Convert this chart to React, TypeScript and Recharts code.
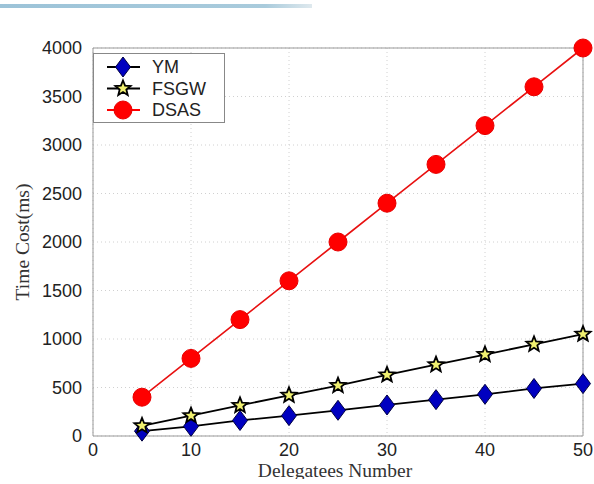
import { LineChart, Line, XAxis, YAxis, CartesianGrid, Legend, ReferenceLine, Label } from 'recharts';

const delegatees = [5, 10, 15, 20, 25, 30, 35, 40, 45, 50];
const ymCost = [50, 100, 160, 210, 265, 320, 375, 430, 490, 540];
const fsgwCost = [105, 210, 315, 420, 520, 630, 735, 840, 945, 1050];
const dsasCost = [400, 800, 1200, 1600, 2000, 2400, 2800, 3200, 3600, 4000];
const xTicks = [0, 10, 20, 30, 40, 50];
const yTicks = [0, 500, 1000, 1500, 2000, 2500, 3000, 3500, 4000];

const data = delegatees.map((d, i) => ({
  n: d,
  YM: ymCost[i],
  FSGW: fsgwCost[i],
  DSAS: dsasCost[i],
}));

const SANS = '"Liberation Sans", Arial, sans-serif';
const SERIF = '"Liberation Serif", "Times New Roman", serif';

// marker shapes, matlab style
const diamond = (cx: number, cy: number, key?: string) => (
  <path
    key={key}
    d={`M${cx},${cy - 10} L${cx + 7.5},${cy} L${cx},${cy + 10} L${cx - 7.5},${cy} Z`}
    fill="#0000c0"
    stroke="#000040"
    strokeWidth={1}
  />
);

const star = (cx: number, cy: number, key?: string) => {
  const pts: string[] = [];
  for (let i = 0; i < 10; i++) {
    const r = i % 2 === 0 ? 8 : 3.5;
    const a = -Math.PI / 2 + (i * Math.PI) / 5;
    pts.push(`${cx + r * Math.cos(a)},${cy + r * Math.sin(a)}`);
  }
  return <polygon key={key} points={pts.join(' ')} fill="#f0f070" stroke="#000" strokeWidth={1.8} />;
};

const circle = (cx: number, cy: number, key?: string) => (
  <circle key={key} cx={cx} cy={cy} r={9} fill="#ff0000" stroke="#e80000" strokeWidth={1} />
);

const LegendBox = () => {
  const items = [
    { name: 'YM', color: '#000', marker: diamond },
    { name: 'FSGW', color: '#000', marker: star },
    { name: 'DSAS', color: '#ff0000', marker: circle },
  ];
  return (
    <svg width={132} height={70} style={{ display: 'block' }}>
      <rect x={0.5} y={0.5} width={131} height={69} fill="#fff" stroke="#888" />
      {items.map((it, i) => {
        const y = 14 + i * 21.5;
        return (
          <g key={it.name}>
            <line x1={14} x2={47} y1={y} y2={y} stroke={it.color} strokeWidth={1.8} />
            {it.marker(30, y)}
            <text x={59} y={y + 6} fontSize={18} fontFamily={SANS} fill="#222">
              {it.name}
            </text>
          </g>
        );
      })}
    </svg>
  );
};

export default function App() {
  return (
    <div style={{ position: 'absolute', left: 0, top: 0, width: 594, height: 484, background: '#fff' }}>
      <div
        style={{
          position: 'absolute',
          left: 0,
          top: 4,
          width: 312,
          height: 4,
          background: 'linear-gradient(to right, #9cc3d8, #a9cbdc 85%, #dfe9ee)',
        }}
      />
      <LineChart width={594} height={484} data={data} margin={{ top: 48, right: 11, left: 33, bottom: 0 }}>
        <CartesianGrid stroke="#d0d0d0" strokeDasharray="1 3" />
        <XAxis
          dataKey="n"
          type="number"
          domain={[0, 50]}
          ticks={xTicks}
          height={48}
          tickLine={false}
          tickSize={0}
          tickMargin={7}
          stroke="#999"
          tick={{ fill: '#222', fontSize: 18, fontFamily: SANS }}
        >
          <Label
            content={({ viewBox }: any) => (
              <text
                x={viewBox.x + viewBox.width / 2 - 3}
                y={viewBox.y + 41}
                textAnchor="middle"
                fontSize={19.5}
                fontFamily={SERIF}
                fill="#333"
              >
                Delegatees Number
              </text>
            )}
          />
        </XAxis>
        <YAxis
          type="number"
          domain={[0, 4000]}
          ticks={yTicks}
          width={60}
          tickLine={false}
          tickSize={0}
          tickMargin={11}
          stroke="#999"
          tick={{ fill: '#222', fontSize: 18, fontFamily: SANS }}
        >
          <Label
            content={({ viewBox }: any) => (
              <text
                x={0}
                y={0}
                transform={`translate(29, ${viewBox.y + viewBox.height / 2}) rotate(-90)`}
                textAnchor="middle"
                fontSize={19.5}
                fontFamily={SERIF}
                fill="#333"
              >
                Time Cost(ms)
              </text>
            )}
          />
        </YAxis>
        <ReferenceLine y={4000} stroke="#999" />
        <ReferenceLine x={50} stroke="#999" />
        <Legend
          layout="vertical"
          align="center"
          verticalAlign="middle"
          wrapperStyle={{ left: 93, top: 53, width: 132, height: 70 }}
          content={() => <LegendBox />}
        />
        <Line
          dataKey="YM"
          stroke="#000"
          strokeWidth={1.8}
          isAnimationActive={false}
          dot={(p: any) => diamond(p.cx, p.cy, `ym-${p.index}`)}
        />
        <Line
          dataKey="FSGW"
          stroke="#000"
          strokeWidth={1.8}
          isAnimationActive={false}
          dot={(p: any) => star(p.cx, p.cy, `fs-${p.index}`)}
        />
        <Line
          dataKey="DSAS"
          stroke="#e81010"
          strokeWidth={1.6}
          isAnimationActive={false}
          dot={(p: any) => circle(p.cx, p.cy, `ds-${p.index}`)}
        />
      </LineChart>
      <div style={{ position: 'absolute', left: 0, top: 479, width: 594, height: 5, background: '#fff' }} />
    </div>
  );
}
